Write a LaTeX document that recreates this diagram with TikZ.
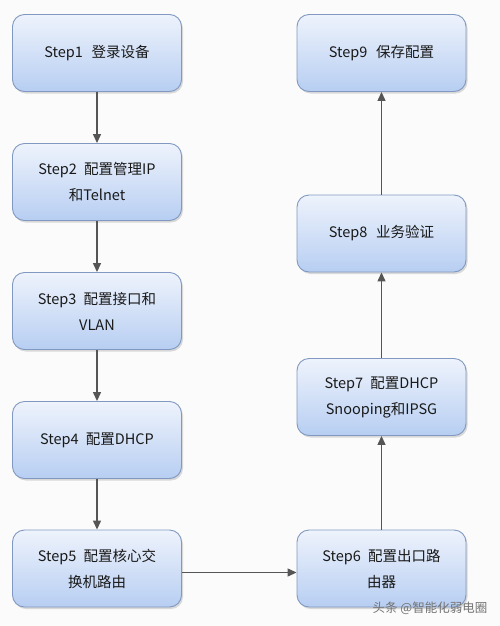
\documentclass[tikz,border=0pt]{standalone}
\usepackage{fontspec}
\setmainfont{Noto Sans CJK SC}
\usetikzlibrary{arrows.meta,shadows}
\definecolor{boxtop}{HTML}{EEF3FC}
\definecolor{boxbot}{HTML}{B7CEF2}
\definecolor{boxedge}{HTML}{8199C0}
\definecolor{arrowc}{HTML}{555555}
\definecolor{bg}{HTML}{FBFBFB}
\tikzset{
  stepbox/.style={draw=boxedge, line width=0.9pt, rounded corners=12pt,
    top color=boxtop, bottom color=boxbot,
    minimum width=169pt, minimum height=77pt, align=center,
    font=\fontsize{14.5pt}{26pt}\selectfont, text=black!90,
    drop shadow={shadow xshift=1.5pt, shadow yshift=-2pt, opacity=0.35, fill=black!40}},
  flow/.style={draw=arrowc, line width=1.3pt, -{Triangle[length=9pt,width=8pt]}}
}
\begin{document}
\begin{tikzpicture}[x=1pt,y=-1pt]
\fill[bg] (0,0) rectangle (500,626);
\useasboundingbox (0,0) rectangle (500,626);
\node[stepbox] (s1) at (97,53) {Step1\hspace{0.6em}登录设备};
\node[stepbox] (s2) at (97,182) {Step2\hspace{0.5em}配置管理IP\\和Telnet};
\node[stepbox] (s3) at (97,311) {Step3\hspace{0.5em}配置接口和\\VLAN};
\node[stepbox] (s4) at (97,440) {Step4\hspace{0.5em}配置DHCP};
\node[stepbox] (s5) at (97,568.5) {Step5\hspace{0.5em}配置核心交\\换机路由};
\node[stepbox] (s6) at (381.5,568.5) {Step6\hspace{0.5em}配置出口路\\由器};
\node[stepbox] (s7) at (381.5,397) {Step7\hspace{0.5em}配置DHCP\\Snooping和IPSG};
\node[stepbox] (s8) at (381.5,233.5) {Step8\hspace{0.6em}业务验证};
\node[stepbox] (s9) at (381.5,53) {Step9\hspace{0.6em}保存配置};
\draw[flow] (s1) -- (s2);
\draw[flow] (s2) -- (s3);
\draw[flow] (s3) -- (s4);
\draw[flow] (s4) -- (s5);
\draw[flow] ([yshift=-4pt]s5.east) -- ([yshift=-4pt]s6.west);
\draw[flow] (s6) -- (s7);
\draw[flow] (s7) -- (s8);
\draw[flow] (s8) -- (s9);
\node[text=black!55, font=\fontsize{12.5pt}{14pt}\selectfont, anchor=center] (wm) at (430,608) {头条 @智能化弱电圈};
\end{tikzpicture}
\end{document}
